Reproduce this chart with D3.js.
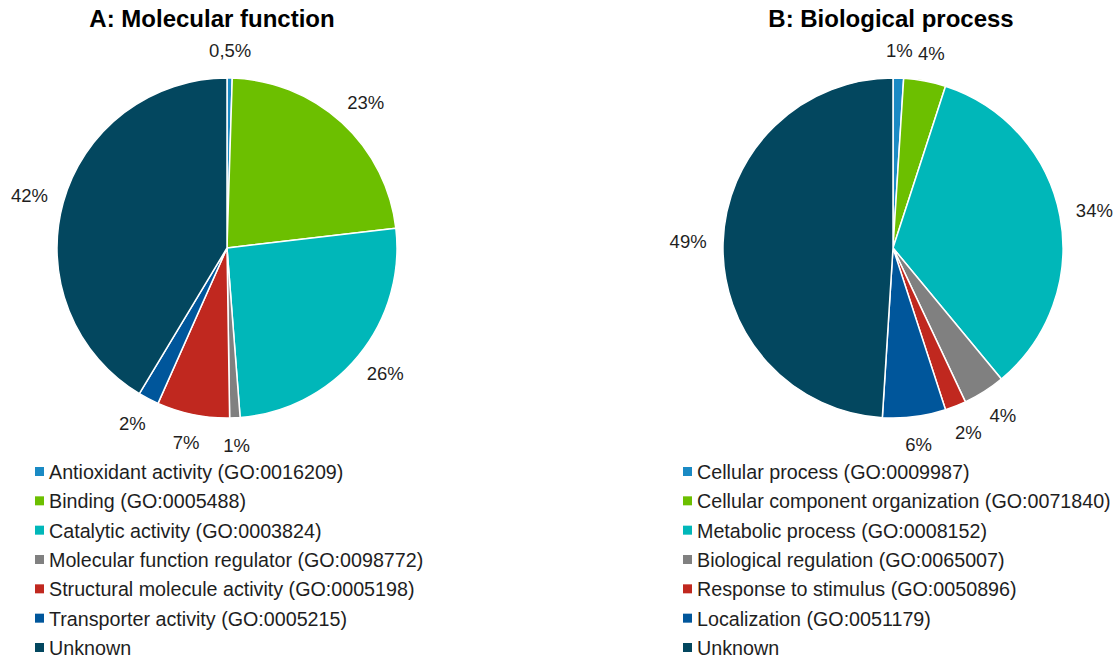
<!DOCTYPE html>
<html>
<head>
<meta charset="utf-8">
<script src="https://cdn.jsdelivr.net/npm/d3@7"></script>
<style>
  html, body { margin: 0; padding: 0; background: #fff; }
  svg { display: block; font-family: "Liberation Sans", Arial, sans-serif; }
</style>
</head>
<body>
<svg id="chart" width="1120" height="661"></svg>
<script>
// GO term distributions (percent of annotated proteins)
const mfCategories = [
  "Antioxidant activity (GO:0016209)",
  "Binding (GO:0005488)",
  "Catalytic activity (GO:0003824)",
  "Molecular function regulator (GO:0098772)",
  "Structural molecule activity (GO:0005198)",
  "Transporter activity (GO:0005215)",
  "Unknown"
];
const mfValues = [0.5, 23, 26, 1, 7, 2, 42];
const mfLabels = ["0,5%", "23%", "26%", "1%", "7%", "2%", "42%"];

const bpCategories = [
  "Cellular process (GO:0009987)",
  "Cellular component organization (GO:0071840)",
  "Metabolic process (GO:0008152)",
  "Biological regulation (GO:0065007)",
  "Response to stimulus (GO:0050896)",
  "Localization (GO:0051179)",
  "Unknown"
];
const bpValues = [1, 4, 34, 4, 2, 6, 49];
const bpLabels = ["1%", "4%", "34%", "4%", "2%", "6%", "49%"];

const palette = ["#1a8ac4", "#6cbf00", "#00b7b9", "#808080", "#c0281f", "#00569b", "#03475f"];

const svg = d3.select("#chart");

function drawPanel(opts) {
  const { title, titleX, cx, cy, radius, categories, values, labels, legendX } = opts;
  const color = d3.scaleOrdinal().domain(categories).range(palette);

  svg.append("text")
    .attr("x", titleX).attr("y", 27)
    .attr("text-anchor", "middle")
    .attr("font-size", 24).attr("font-weight", "bold")
    .attr("fill", "#000")
    .text(title);

  const data = categories.map((c, i) => ({ cat: c, value: values[i], label: labels[i] }));
  const pie = d3.pie().value(d => d.value).sort(null);
  const arcs = pie(data);
  const arc = d3.arc().innerRadius(0).outerRadius(radius);

  const g = svg.append("g").attr("transform", `translate(${cx},${cy})`);
  g.selectAll("path.slice").data(arcs).join("path")
    .attr("class", "slice")
    .attr("d", arc)
    .attr("fill", d => color(d.data.cat))
    .attr("stroke", "#fff")
    .attr("stroke-width", 1.5)
    .attr("stroke-linejoin", "round");

  // percentage labels sit just outside the rim, pushed out by their half size
  const labelR = radius + 20;
  const halfW = 15, halfH = 8;
  g.selectAll("text.pct").data(arcs).join("text")
    .attr("class", "pct")
    .attr("text-anchor", "middle")
    .attr("dominant-baseline", "central")
    .attr("font-size", 18.5)
    .attr("fill", "#1e1e1e")
    .attr("x", d => {
      const a = (d.startAngle + d.endAngle) / 2;
      return Math.sin(a) * labelR + Math.sin(a) * halfW;
    })
    .attr("y", d => {
      const a = (d.startAngle + d.endAngle) / 2;
      return -Math.cos(a) * labelR - Math.cos(a) * halfH;
    })
    .text(d => d.data.label);

  // legend
  const legendY = d3.scalePoint().domain(categories).range([472, 648]);
  const lg = svg.append("g");
  const rows = lg.selectAll("g").data(categories).join("g")
    .attr("transform", d => `translate(${legendX},${legendY(d)})`);
  rows.append("rect")
    .attr("x", 0).attr("y", -5).attr("width", 9).attr("height", 9)
    .attr("fill", d => color(d));
  rows.append("text")
    .attr("x", 14).attr("y", 0)
    .attr("dominant-baseline", "central")
    .attr("font-size", 19.7)
    .attr("fill", "#1e1e1e")
    .text(d => d);
}

drawPanel({
  title: "A: Molecular function", titleX: 212,
  cx: 227, cy: 248, radius: 170,
  categories: mfCategories, values: mfValues, labels: mfLabels,
  legendX: 35
});

drawPanel({
  title: "B: Biological process", titleX: 891,
  cx: 893, cy: 248, radius: 170,
  categories: bpCategories, values: bpValues, labels: bpLabels,
  legendX: 683
});
</script>
</body>
</html>
